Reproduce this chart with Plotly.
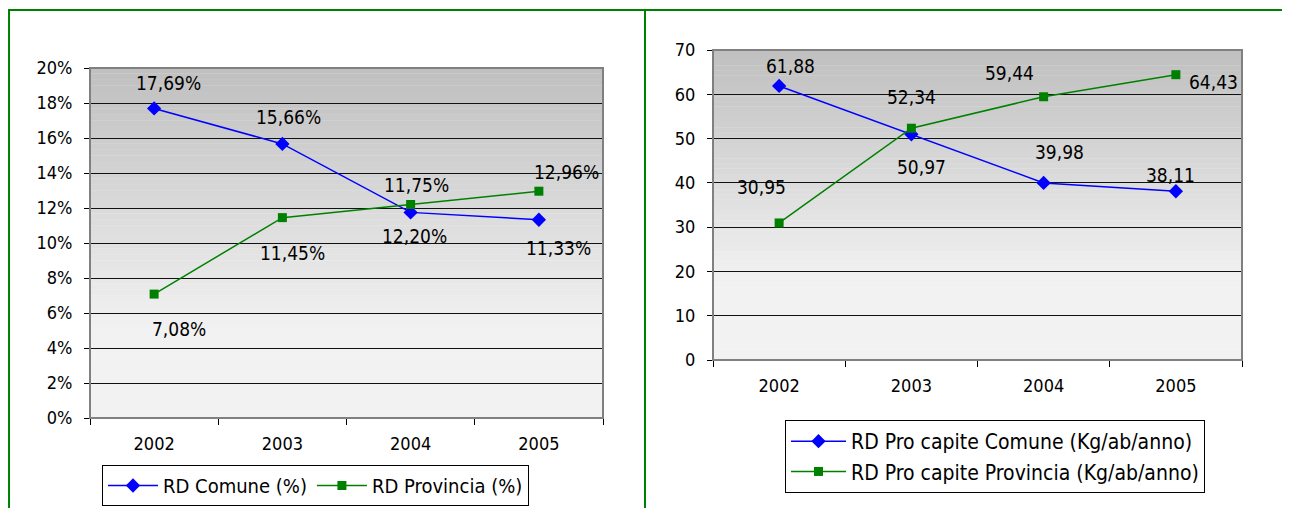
import plotly.graph_objects as go

years = ["2002", "2003", "2004", "2005"]

# RD percentuale
rd_comune = [17.69, 15.66, 11.75, 11.33]
rd_provincia = [7.08, 11.45, 12.20, 12.96]

# RD pro capite (Kg/ab/anno)
pc_comune = [61.88, 50.97, 39.98, 38.11]
pc_provincia = [30.95, 52.34, 59.44, 64.43]

OFF = 8  # body margin of the page
W, H = 1290 - OFF, 508 - OFF
FONT = "Tahoma, 'DejaVu Sans Condensed', 'DejaVu Sans', sans-serif"
BLUE = "#0000ff"
GREEN = "#008000"


def px_x(v):
    return (v - OFF) / W


def px_y(v):
    return (H - (v - OFF)) / H


def fmt(v, pct):
    s = f"{v:.2f}".replace(".", ",")
    return s + "%" if pct else s


fig = go.Figure()

fig.add_trace(go.Scatter(x=years, y=rd_comune, name="RD Comune (%)", mode="lines+markers",
                         line=dict(color=BLUE, width=1.5),
                         marker=dict(symbol="diamond", size=11, color=BLUE),
                         xaxis="x", yaxis="y", legend="legend"))
fig.add_trace(go.Scatter(x=years, y=rd_provincia, name="RD Provincia (%)", mode="lines+markers",
                         line=dict(color=GREEN, width=1.5),
                         marker=dict(symbol="square", size=9, color=GREEN),
                         xaxis="x", yaxis="y", legend="legend"))
fig.add_trace(go.Scatter(x=years, y=pc_comune, name="RD Pro capite Comune (Kg/ab/anno)", mode="lines+markers",
                         line=dict(color=BLUE, width=1.5),
                         marker=dict(symbol="diamond", size=11, color=BLUE),
                         xaxis="x2", yaxis="y2", legend="legend2"))
fig.add_trace(go.Scatter(x=years, y=pc_provincia, name="RD Pro capite Provincia (Kg/ab/anno)", mode="lines+markers",
                         line=dict(color=GREEN, width=1.5),
                         marker=dict(symbol="square", size=9, color=GREEN),
                         xaxis="x2", yaxis="y2", legend="legend2"))

# data labels, offsets in px (label centre relative to point)
off_rd_c = [(14, -25), (6, -27), (6, -27), (20, 28)]
off_rd_p = [(25, 35), (10, 35), (4, 31), (28, -19)]
off_pc_c = [(11, -20), (10, 33), (16, -31), (-5, -16)]
off_pc_p = [(-18, -36), (0, -31), (-34, -24), (38, 7)]

anns = []
for vals, offs, xr, yr, pct in [(rd_comune, off_rd_c, "x", "y", True),
                                (rd_provincia, off_rd_p, "x", "y", True),
                                (pc_comune, off_pc_c, "x2", "y2", False),
                                (pc_provincia, off_pc_p, "x2", "y2", False)]:
    for i, (v, (dx, dy)) in enumerate(zip(vals, offs)):
        # category axis: annotation x is the category index
        anns.append(dict(x=i, y=v, xref=xr, yref=yr, text=fmt(v, pct), showarrow=False,
                         xshift=dx, yshift=-dy, font=dict(family=FONT, size=19, color="black")))

shapes = []
# gradient background of both plot areas
n = 60
for xr, yr in [("x domain", "y domain"), ("x2 domain", "y2 domain")]:
    for i in range(n):
        t = i / (n - 1)
        f = min(1.0, t / 0.75)
        g = int(0xc0 + (0xf2 - 0xc0) * f)
        col = f"rgb({g},{g},{g})"
        shapes.append(dict(type="rect", xref=xr, yref=yr, x0=0, x1=1,
                           y0=1 - (i + 1) / n, y1=1 - i / n + 0.001,
                           fillcolor=col, line=dict(width=0), layer="below"))
    shapes.append(dict(type="rect", xref=xr, yref=yr, x0=0, x1=1, y0=0, y1=1,
                       line=dict(color="#808080", width=2), layer="above", fillcolor="rgba(0,0,0,0)"))

# green table frame
shapes.append(dict(type="line", xref="paper", yref="paper", x0=0, x1=1.02, y0=px_y(10), y1=px_y(10),
                   line=dict(color=GREEN, width=2)))
shapes.append(dict(type="line", xref="paper", yref="paper", x0=0.0008, x1=0.0008, y0=0, y1=px_y(10),
                   line=dict(color=GREEN, width=2)))
shapes.append(dict(type="line", xref="paper", yref="paper", x0=px_x(645), x1=px_x(645), y0=0, y1=px_y(10),
                   line=dict(color=GREEN, width=2)))

axis_font = dict(family=FONT, size=18, color="black")
common_x = dict(type="category", range=[-0.5, 3.5], tickson="boundaries", ticks="outside", ticklen=6,
                tickcolor="black", showline=True, linecolor="black", linewidth=1, showgrid=False,
                tickfont=axis_font, tickangle=0, automargin=False, fixedrange=True,
                ticklabelstandoff=9)
common_y = dict(ticks="outside", ticklen=5, tickcolor="black", showline=True, linecolor="black",
                linewidth=1, showgrid=True, gridcolor="#111111", gridwidth=1, zeroline=False,
                tickfont=axis_font, automargin=False, fixedrange=True, ticklabelstandoff=8)

fig.update_layout(
    width=W, height=H,
    margin=dict(l=0, r=0, t=0, b=0),
    paper_bgcolor="white", plot_bgcolor="rgba(0,0,0,0)",
    font=dict(family=FONT, size=18, color="black"),
    xaxis=dict(domain=[px_x(90), px_x(603)], anchor="y", **common_x),
    yaxis=dict(domain=[px_y(418), px_y(68)], anchor="x", range=[0, 20], dtick=2,
               ticksuffix="%", **common_y),
    xaxis2=dict(domain=[px_x(713), px_x(1242)], anchor="y2", **common_x),
    yaxis2=dict(domain=[px_y(360), px_y(50)], anchor="x2", range=[0, 70], dtick=10, **common_y),
    legend=dict(x=px_x(102), y=px_y(465), xanchor="left", yanchor="top", orientation="h",
                bordercolor="black", borderwidth=1, bgcolor="white",
                font=dict(family=FONT, size=20), itemwidth=50),
    legend2=dict(x=px_x(785), y=px_y(420), xanchor="left", yanchor="top", orientation="v",
                 bordercolor="black", borderwidth=1, bgcolor="white",
                 font=dict(family=FONT, size=21), itemwidth=55),
    annotations=anns,
    shapes=shapes,
)

fig.write_html("out.html")
